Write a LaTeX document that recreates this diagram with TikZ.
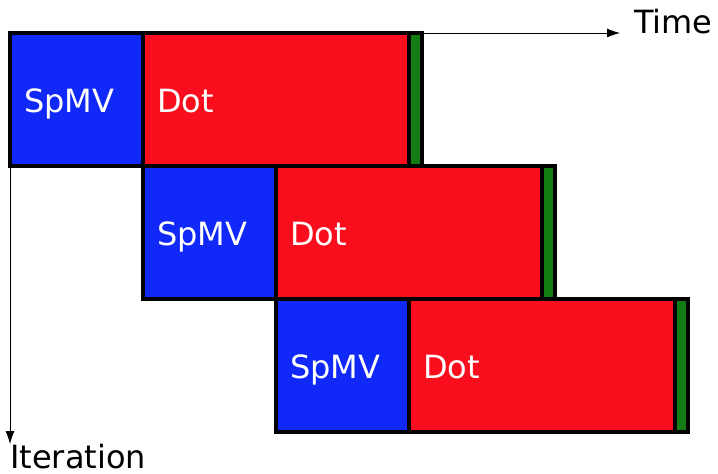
\documentclass[tikz,border=0pt]{standalone}
\usepackage{fontspec}
\setmainfont{DejaVu Sans}
\usetikzlibrary{arrows.meta}
\definecolor{cblue}{RGB}{16,40,248}
\definecolor{cred}{RGB}{250,14,30}
\definecolor{cgreen}{RGB}{19,125,19}
\tikzset{
  cell/.style={draw=black, line width=3.6pt, inner sep=0pt, outer sep=0pt, anchor=north west, minimum height=133pt},
  spmvbox/.style={cell, fill=cblue, minimum width=133pt},
  dotbox/.style={cell, fill=cred, minimum width=133pt*2},
  endbox/.style={cell, fill=cgreen, minimum width=13pt},
  celltext/.style={anchor=base west, inner sep=0pt, text=white, font=\fontsize{32}{38}\selectfont},
  axistext/.style={anchor=base west, inner sep=0pt, text=black, font=\fontsize{32}{38}\selectfont},
  axis/.style={line width=0.8pt, -{Latex[length=13pt,width=9pt]}}
}
\begin{document}
\begin{tikzpicture}[x=1pt,y=-1pt]
\useasboundingbox (0,0) rectangle (718,474);
\coordinate (tend) at (620,33);
\coordinate (iend) at (10,444);
\foreach \i/\x/\y in {1/10/33, 2/143/166, 3/276/299}{
  \node[spmvbox] (s\i) at (\x,\y) {};
  \node[dotbox] (d\i) at (s\i.north east) {};
  \node[endbox] (g\i) at (d\i.north east) {};
  \node[celltext] (ts\i) at ([xshift=14pt,yshift=-12.5pt]s\i.west) {SpMV};
  \node[celltext] (td\i) at ([xshift=14pt,yshift=-12.5pt]d\i.west) {Dot};
}
\draw[axis] (g1.north east) -- (tend);
\draw[axis] (s1.south west) -- (iend);
\node[axistext] (time) at (634,33) {Time};
\node[axistext] (iter) at (10,468) {Iteration};
\end{tikzpicture}
\end{document}
